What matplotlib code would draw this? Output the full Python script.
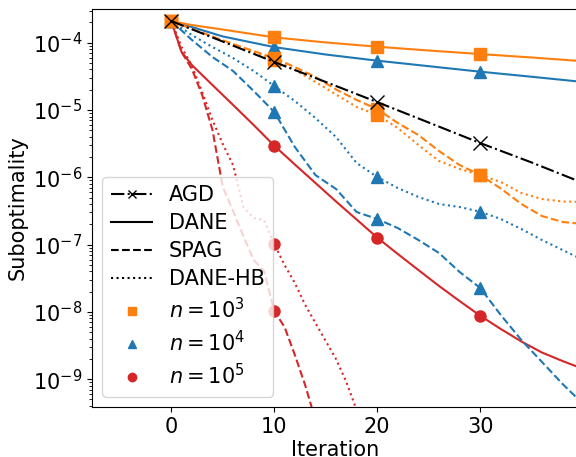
import numpy as np
import matplotlib.pyplot as plt
from matplotlib.lines import Line2D

plt.rcParams['font.size'] = 15

# colours per problem size
c3 = '#ff7f0e'
c4 = '#1f77b4'
c5 = '#d62728'

# AGD (only one run)
it_agd = [0, 5, 10, 15, 20, 25, 30, 35, 40]
agd = [2.10e-4, 1.04e-4, 5.17e-5, 2.61e-5, 1.31e-5, 6.52e-6, 3.23e-6, 1.66e-6, 8.23e-7]

# DANE
it_dane = [0, 2, 5, 10, 15, 20, 25, 30, 35, 40]
dane_1e3 = [2.10e-4, 1.83e-4, 1.57e-4, 1.20e-4, 1.01e-4, 8.72e-5, 7.66e-5, 6.79e-5, 6.03e-5, 5.31e-5]
dane_1e4 = [2.10e-4, 1.71e-4, 1.24e-4, 8.60e-5, 6.68e-5, 5.41e-5, 4.48e-5, 3.71e-5, 3.12e-5, 2.61e-5]
it_dane_5 = [0, 1, 2, 4, 6, 8, 10, 12, 14, 16, 18, 20, 22, 24, 26, 28, 30, 32, 34, 36, 38, 40]
dane_1e5 = [2.10e-4, 7.28e-5, 4.66e-5, 2.35e-5, 1.19e-5, 5.98e-6, 2.95e-6, 1.55e-6, 8.23e-7,
            4.37e-7, 2.36e-7, 1.27e-7, 7.25e-8, 4.19e-8, 2.43e-8, 1.45e-8, 8.78e-9, 5.57e-9,
            3.63e-9, 2.49e-9, 1.86e-9, 1.42e-9]

# SPAG
it_even = list(range(0, 41, 2))
spag_1e3 = [2.10e-4, 1.60e-4, 1.24e-4, 9.56e-5, 7.53e-5, 5.92e-5, 4.35e-5, 3.09e-5, 2.02e-5,
            1.41e-5, 1.03e-5, 6.41e-6, 4.25e-6, 2.46e-6, 1.52e-6, 1.08e-6, 6.82e-7, 4.01e-7,
            2.66e-7, 2.17e-7, 2.02e-7]
spag_1e4 = [2.10e-4, 1.10e-4, 6.13e-5, 3.80e-5, 1.92e-5, 9.34e-6, 2.82e-6, 1.08e-6, 6.70e-7,
            3.05e-7, 2.40e-7, 1.76e-7, 1.17e-7, 7.50e-8, 3.92e-8, 2.27e-8, 8.99e-9, 3.82e-9,
            1.80e-9, 8.49e-10, 4.28e-10]
it_spag_5 = list(range(0, 15))
spag_1e5 = [2.10e-4, 7.28e-5, 4.07e-5, 1.67e-5, 5.05e-6, 7.20e-7, 3.16e-7, 1.34e-7, 5.91e-8,
            4.05e-8, 1.03e-8, 5.96e-9, 2.29e-9, 8.19e-10, 2.47e-10]

# DANE-HB
hb_1e3 = [2.10e-4, 1.60e-4, 1.22e-4, 9.40e-5, 7.27e-5, 5.63e-5, 3.93e-5, 2.61e-5, 1.70e-5,
          1.11e-5, 8.43e-6, 5.40e-6, 3.02e-6, 1.75e-6, 1.33e-6, 1.08e-6, 8.52e-7, 5.84e-7,
          4.76e-7, 4.37e-7, 4.30e-7]
hb_1e4 = [2.10e-4, 1.30e-4, 8.63e-5, 5.92e-5, 3.80e-5, 2.27e-5, 1.36e-5, 7.60e-6, 3.97e-6,
          1.63e-6, 1.01e-6, 6.93e-7, 5.10e-7, 4.01e-7, 3.62e-7, 3.08e-7, 2.40e-7, 1.70e-7,
          1.17e-7, 8.31e-8, 5.90e-8]
it_hb_5 = list(range(0, 19))
hb_1e5 = [2.10e-4, 8.63e-5, 4.51e-5, 1.85e-5, 7.10e-6, 3.13e-6, 1.52e-6, 3.62e-7, 2.48e-7,
          2.32e-7, 1.02e-7, 4.98e-8, 2.69e-8, 1.27e-8, 6.84e-9, 3.69e-9, 1.99e-9, 9.08e-10,
          3.48e-10]

mark_at = [0, 10, 20, 30]


def marks(it):
    return [i for i, t in enumerate(it) if t in mark_at]


fig = plt.figure(figsize=(5.76, 4.57), dpi=100)
ax = fig.add_axes([92 / 576, 50 / 457, 486 / 576, 398 / 457])

ms = 8
runs = [
    (it_spag_5, spag_1e5, '--', c5, 'o'),
    (it_hb_5, hb_1e5, ':', c5, 'o'),
    (it_dane_5, dane_1e5, '-', c5, 'o'),
    (it_even, spag_1e4, '--', c4, '^'),
    (it_even, hb_1e4, ':', c4, '^'),
    (it_dane, dane_1e4, '-', c4, '^'),
    (it_even, spag_1e3, '--', c3, 's'),
    (it_even, hb_1e3, ':', c3, 's'),
    (it_dane, dane_1e3, '-', c3, 's'),
]
for it, vals, ls, col, mk in runs:
    ax.plot(it, vals, linestyle=ls, color=col, marker=mk, markersize=ms,
            markevery=marks(it), lw=1.5)

ax.plot(it_agd, agd, linestyle='-.', color='k', marker='x', markersize=10,
        markevery=marks(it_agd), lw=1.5)

ax.set_yscale('log')
ax.set_ylim(3.86e-10, 3.17e-4)
ax.set_xlim(-7.7, 39.5)
ax.set_xticks([0, 10, 20, 30])
ax.set_xlabel('Iteration', labelpad=2)
ax.set_ylabel('Suboptimality')

handles = [
    Line2D([], [], color='k', linestyle='-.', marker='x', markersize=6, lw=1.5),
    Line2D([], [], color='k', linestyle='-', lw=1.5),
    Line2D([], [], color='k', linestyle='--', lw=1.5),
    Line2D([], [], color='k', linestyle=':', lw=1.5),
    Line2D([], [], color=c3, linestyle='none', marker='s', markersize=6),
    Line2D([], [], color=c4, linestyle='none', marker='^', markersize=6),
    Line2D([], [], color=c5, linestyle='none', marker='o', markersize=6),
]
labels = ['AGD', 'DANE', 'SPAG', 'DANE-HB', '$n = 10^3$', '$n = 10^4$', '$n = 10^5$']
ax.legend(handles, labels, loc='lower left', labelspacing=0.38)

fig.savefig('out.png', dpi=100)
